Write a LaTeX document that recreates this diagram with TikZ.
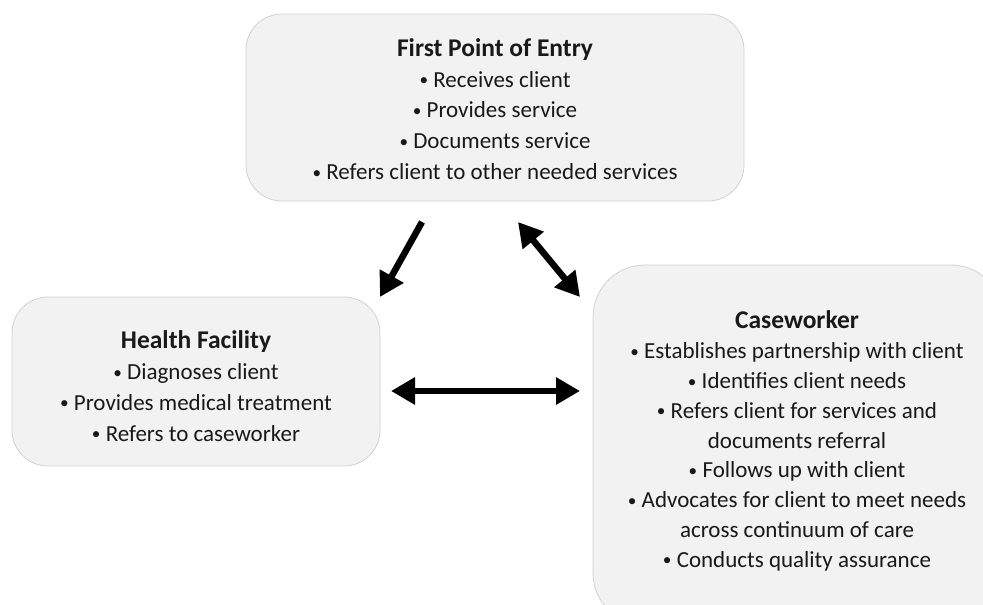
\documentclass[tikz,border=0pt]{standalone}
\usepackage{fontspec}
\setmainfont{Carlito}
\usetikzlibrary{arrows.meta}
\newcommand\boxtitle[1]{{\fontsize{25.5}{31}\selectfont\textbf{#1}}}
\newcommand\bl{\raisebox{.12ex}{\scalebox{.75}{•}}\ }
\begin{document}
\begin{tikzpicture}[x=1pt,y=-1pt,
	box/.style={draw=black!18,fill=black!5,line width=.8pt,rounded corners=#1,inner sep=0pt},
	txt/.style={align=center,text=black!90,font=\fontsize{23}{30.8}\selectfont,inner sep=0pt},
	bigarrow/.style={line width=6.5pt,-{Triangle[width=26pt,length=24pt]}},
	dblarrow/.style={line width=6.5pt,{Triangle[width=26pt,length=24pt]}-{Triangle[width=26pt,length=24pt]}}]
		\useasboundingbox(0,0)rectangle(983,605);
		\node[box=36pt,minimum width=498pt,minimum height=187pt](entry)at(495,107.5){};
		\node[box=36pt,minimum width=368pt,minimum height=169pt](health)at(196,381.5){};
		\node[box=52pt,minimum width=410pt,minimum height=360pt](case)at(798,445){};
		\node[txt](entrytxt)at(495,109){\boxtitle{First Point of Entry}\\ \bl Receives client\\ \bl Provides service\\ \bl Documents service\\ \bl Refers client to other needed services};
		\node[txt](healthtxt)at(196,386){\boxtitle{Health Facility}\\ \bl Diagnoses client\\ \bl Provides medical treatment\\ \bl Refers to caseworker};
		\node[txt,font=\fontsize{23}{29.8}\selectfont](casetxt)at(797,441){\boxtitle{Caseworker}\\ \bl Establishes partnership with client\\ \bl Identifies client needs\\ \bl Refers client for services and\\ documents referral\\ \bl Follows up with client\\ \bl Advocates for client to meet needs\\ across continuum of care\\ \bl Conducts quality assurance};
		\coordinate(A1)at(422,222);
		\coordinate(A2)at(380,297);
		\coordinate(B1)at(518,222);
		\coordinate(B2)at(580,297);
		\coordinate(C1)at(391,391);
		\coordinate(C2)at(580,391);
		\draw[bigarrow](A1)--(A2);
		\draw[dblarrow](B1)--(B2);
		\draw[dblarrow](C1)--(C2);
		\end{tikzpicture}
\end{document}
